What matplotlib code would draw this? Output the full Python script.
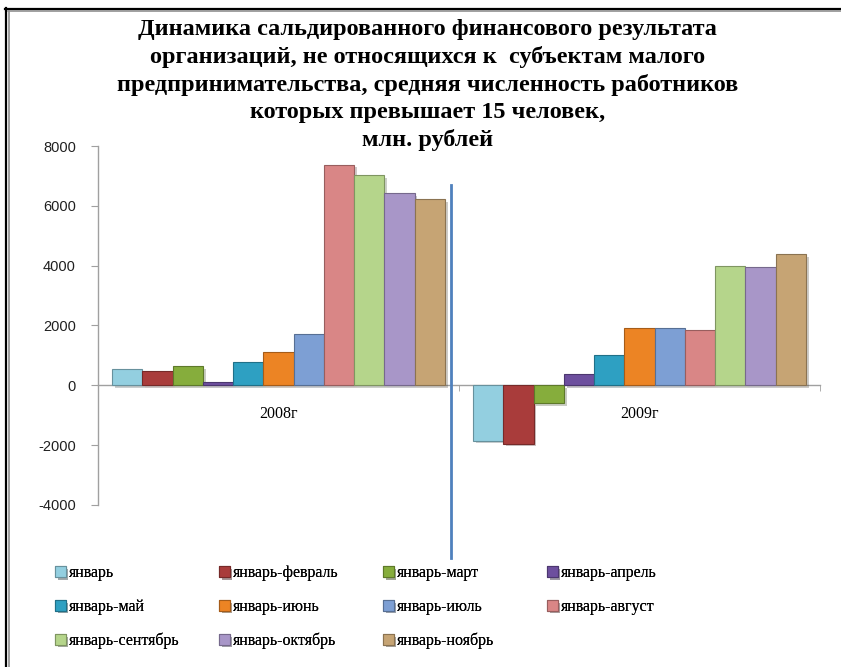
import matplotlib
matplotlib.use('Agg')
from matplotlib import pyplot as plt
from matplotlib.lines import Line2D
import matplotlib.patheffects as pe
import matplotlib.colors as mcolors
import numpy as np

plt.rcParams['axes.unicode_minus'] = False

# Data (млн. рублей)
years = ['2008г', '2009г']
periods = ['январь', 'январь-февраль', 'январь-март', 'январь-апрель',
           'январь-май', 'январь-июнь', 'январь-июль', 'январь-август',
           'январь-сентябрь', 'январь-октябрь', 'январь-ноябрь']
values_2008 = [560, 470, 640, 110, 780, 1120, 1720, 7380, 7040, 6430, 6220]
values_2009 = [-1850, -1950, -590, 380, 1020, 1920, 1920, 1840, 3980, 3940, 4400]

colors = ['#93CFE0', '#A93C3B', '#86AD3C', '#6D4F9E', '#2EA0C2', '#EC8424',
          '#7D9FD4', '#D98686', '#B5D58B', '#A896C8', '#C6A474']

title = ('Динамика сальдированного финансового результата\n'
         'организаций, не относящихся к  субъектам малого\n'
         'предпринимательства, средняя численность работников\n'
         'которых превышает 15 человек,\n'
         'млн. рублей')


def darker(c, f=0.7):
    r, g, b = mcolors.to_rgb(c)
    return (r * f, g * f, b * f)


def main():
    fig = plt.figure(figsize=(8.41, 6.67), dpi=100)
    ax = fig.add_axes([0.1165, 0.243, 0.8585, 0.538])

    n = len(periods)
    bar_w = 0.0838
    x = np.arange(len(years))
    shadow = [pe.SimplePatchShadow(offset=(2, -2), alpha=0.25), pe.Normal()]
    handles = []
    for i, name in enumerate(periods):
        vals = [values_2008[i], values_2009[i]]
        pos = x + (i - (n - 1) / 2) * bar_w
        bars = ax.bar(pos, vals, width=bar_w, color=colors[i],
                      edgecolor=darker(colors[i]), linewidth=0.8,
                      label=name, zorder=3)
        for b in bars:
            b.set_path_effects(shadow)
        handles.append(bars)

    ax.set_xlim(-0.5, 1.5)
    ax.set_ylim(-4000, 8000)
    ax.set_yticks(np.arange(-4000, 8001, 2000))

    for s in ['top', 'right']:
        ax.spines[s].set_visible(False)
    ax.spines['bottom'].set_position(('data', 0))
    for s in ['left', 'bottom']:
        ax.spines[s].set_color('#A0A0A0')
        ax.spines[s].set_linewidth(1.0)

    ax.set_xticks(x)
    ax.set_xticklabels(years, fontfamily='Liberation Serif', fontsize=11.5)
    ax.set_xticks([-0.5, 0.5, 1.5], minor=True)
    ax.tick_params(axis='x', which='major', length=0, pad=15)
    ax.tick_params(axis='x', which='minor', length=4, color='#A0A0A0',
                   direction='out')
    ax.tick_params(axis='y', length=5, color='#A0A0A0', direction='out',
                   labelsize=10.5, pad=11)
    for lbl in ax.get_yticklabels():
        lbl.set_fontfamily('Liberation Sans')
        lbl.set_color('#202020')

    # blue divider between the years
    ax.axvline(0.478, ymin=-0.148, ymax=0.891, color='#4F81BD',
               linewidth=2, clip_on=False, zorder=4)

    fig.text(0.508, 0.972, title, ha='center', va='top',
             fontfamily='Liberation Serif', fontweight='bold', fontsize=17.5,
             linespacing=1.36)

    # legend: 4 evenly spaced columns, filled row by row
    col_x = [0.058, 0.253, 0.448, 0.643]
    for c in range(4):
        idx = list(range(c, n, 4))
        leg = fig.legend([handles[k] for k in idx], [periods[k] for k in idx],
                         loc='upper left', bbox_to_anchor=(col_x[c], 0.162),
                         frameon=False,
                         prop={'family': 'Liberation Serif', 'size': 11.5},
                         handlelength=0.65, handleheight=0.65,
                         handletextpad=0.2, labelspacing=1.1, borderaxespad=0)
        fig.add_artist(leg)

    # frame lines of the original screenshot (left and top)
    fig.add_artist(Line2D([0.007, 0.007], [0, 0.988], color='black',
                          linewidth=1.6, transform=fig.transFigure))
    fig.add_artist(Line2D([0.0105, 0.0105], [0, 0.983], color='#909090',
                          linewidth=1.2, transform=fig.transFigure))
    fig.add_artist(Line2D([0.006, 1], [0.987, 0.987], color='black',
                          linewidth=1.6, transform=fig.transFigure))
    fig.add_artist(Line2D([0.0095, 1], [0.983, 0.983], color='#909090',
                          linewidth=1.2, transform=fig.transFigure))

    fig.savefig('out.png', dpi=100)


if __name__ == '__main__':
    main()
